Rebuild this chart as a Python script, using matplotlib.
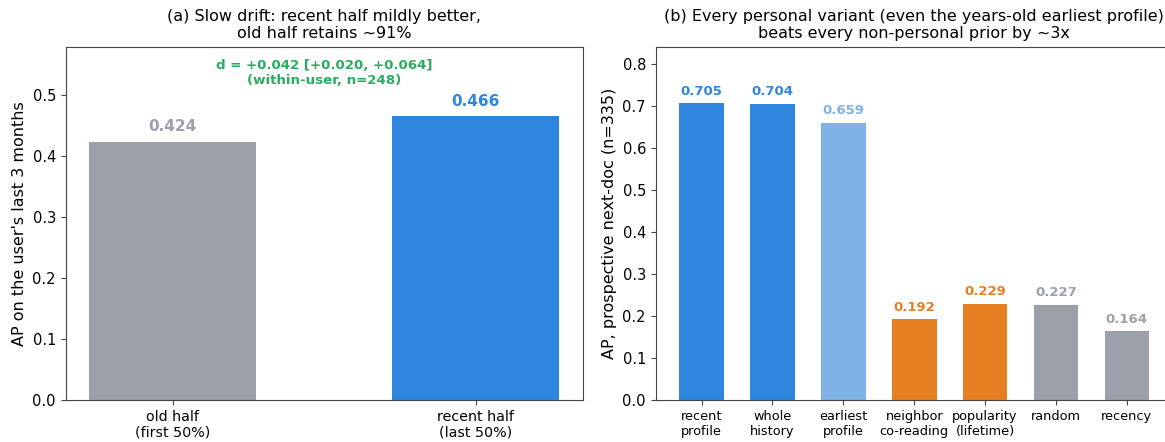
import matplotlib
matplotlib.use("Agg")
import matplotlib.pyplot as plt

# panel (a)
halves = ["old half\n(first 50%)", "recent half\n(last 50%)"]
half_ap = [0.424, 0.466]
half_colors = ["#9ca0a8", "#2e86de"]
diff_text = "d = +0.042 [+0.020, +0.064]\n(within-user, n=248)"

# panel (b)
variants = ["recent\nprofile", "whole\nhistory", "earliest\nprofile", "neighbor\nco-reading",
            "popularity\n(lifetime)", "random", "recency"]
variant_ap = [0.705, 0.704, 0.659, 0.192, 0.229, 0.227, 0.164]
variant_colors = ["#2e86de", "#2e86de", "#7fb2e5", "#e67e22", "#e67e22", "#9ca0a8", "#9ca0a8"]

plt.rcParams["axes.edgecolor"] = "#444444"
plt.rcParams["xtick.color"] = "#444444"
plt.rcParams["ytick.color"] = "#444444"
plt.rcParams["xtick.labelcolor"] = "black"
plt.rcParams["ytick.labelcolor"] = "black"

W, H = 1165, 442
fig = plt.figure(figsize=(W / 100, H / 100), dpi=100)
# axes placed in pixels; the right panel runs slightly past the figure edge like the original
ax1 = fig.add_axes([65.7 / W, 42 / H, 517 / W, 353.3 / H])
ax2 = fig.add_axes([655.7 / W, 42 / H, 517 / W, 353.3 / H])

# Panel (a)
x1 = range(len(halves))
ax1.bar(x1, half_ap, width=0.55, color=half_colors)
for i, v in enumerate(half_ap):
    ax1.text(i, v + 0.012, f"{v:.3f}", ha="center", va="bottom", fontsize=11,
             fontweight="bold", color=half_colors[i])
ax1.text(0.5, 0.537, diff_text, ha="center", va="center", fontsize=9.6,
         fontweight="bold", color="#27ae60", linespacing=1.2)
ax1.set_xticks(list(x1))
ax1.set_xticklabels(halves, fontsize=10.3)
ax1.tick_params(axis="y", labelsize=10.5)
ax1.set_ylim(0, 0.58)
ax1.set_ylabel("AP on the user's last 3 months", fontsize=11.5)
ax1.set_title("(a) Slow drift: recent half mildly better,\nold half retains ~91%", fontsize=11.5)

# Panel (b)
x2 = range(len(variants))
ax2.bar(x2, variant_ap, width=0.63, color=variant_colors)
for i, v in enumerate(variant_ap):
    ax2.text(i, v + 0.013, f"{v:.3f}", ha="center", va="bottom", fontsize=9.5,
             fontweight="bold", color=variant_colors[i])
ax2.set_xticks(list(x2))
ax2.set_xticklabels(variants, fontsize=9.3)
ax2.tick_params(axis="y", labelsize=10.5)
ax2.set_ylim(0, 0.84)
ax2.set_ylabel("AP, prospective next-doc (n=335)", fontsize=11.5)
ax2.set_title("(b) Every personal variant (even the years-old earliest profile)\nbeats every non-personal prior by ~3x",
              fontsize=11.5)

fig.savefig("out.png")
